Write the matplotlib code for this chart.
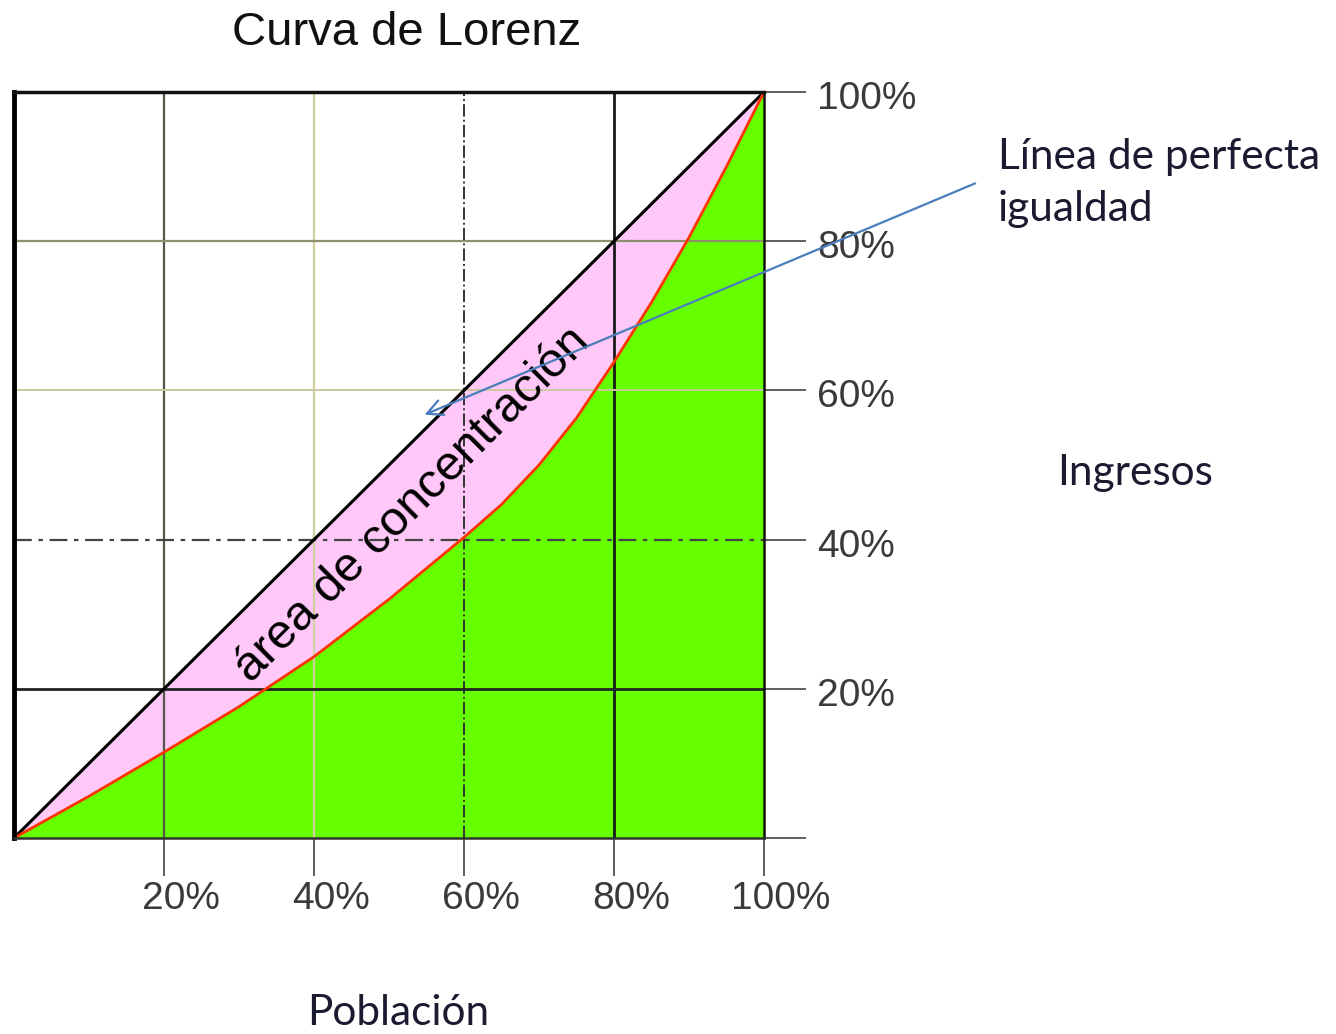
import matplotlib
matplotlib.use("Agg")
import matplotlib.pyplot as plt
from matplotlib.transforms import ScaledTranslation

# ---- data ----
poblacion = [0, 10, 20, 30, 40, 50, 60, 65, 70, 75, 80, 85, 90, 95, 100]
ingresos = [0, 5.6, 11.5, 17.6, 24.3, 32.0, 40.3, 44.7, 50.0, 56.3, 63.8, 71.8, 80.5, 90.0, 100]
igualdad_x = [0, 100]
igualdad_y = [0, 100]
x_ticks = [20, 40, 60, 80, 100]
x_labels = ["20%", "40%", "60%", "80%", "100%"]
y_ticks = [0, 20, 40, 60, 80, 100]
y_labels = ["", "20%", "40%", "60%", "80%", "100%"]
grid_v = [20, 40, 60, 80]
grid_h = [20, 40, 60, 80]

titulo = "Curva de Lorenz"
etiqueta_x = "Población"
etiqueta_y = "Ingresos"
texto_area = "área de concentración"
texto_linea = "Línea de perfecta\nigualdad"

fig = plt.figure(figsize=(13.36, 10.34), dpi=100)
ax = fig.add_axes([14/1336, 1-838/1034, 750/1336, 746/1034])
ax.set_xlim(0, 100)
ax.set_ylim(0, 100)

# fills
ax.fill_between(igualdad_x, igualdad_y, 0, color="#FFC8F8", zorder=1, lw=0)
ax.fill_between(poblacion, ingresos, 0, color="#66FF00", zorder=2, lw=0)

# grid lines with varied styles
v_styles = [("#555548", "-", 1.6), ("#CFCFA0", "-", 1.6), ("#333333", "-.", 1.4), ("#1a1a1a", "-", 2.0)]
h_styles = [("#222222", "-", 2.0), ("#444444", (0, (8, 3, 2, 3)), 1.6), ("#C8C8A0", "-", 1.4), ("#8F8F70", "-", 1.6)]
for v, (c, ls, lw) in zip(grid_v, v_styles):
    ax.axvline(v, color=c, ls=ls, lw=lw, zorder=3)
for h, (c, ls, lw) in zip(grid_h, h_styles):
    ax.axhline(h, color=c, ls=ls, lw=lw, zorder=3)

# lines
ax.plot(igualdad_x, igualdad_y, color="black", lw=2.2, zorder=5)
ax.plot(poblacion, ingresos, color="#FF3300", lw=2.0, zorder=5)

# spines
ax.spines["left"].set_linewidth(3.5)
ax.spines["left"].set_color("black")
ax.spines["top"].set_linewidth(2.5)
ax.spines["top"].set_color("#111111")
ax.spines["right"].set_linewidth(1.8)
ax.spines["right"].set_color("#111111")
ax.spines["bottom"].set_linewidth(1.8)
ax.spines["bottom"].set_color("#333333")
for s in ax.spines.values():
    s.set_zorder(6)

# ticks
ax.set_xticks(x_ticks)
ax.set_xticklabels(x_labels)
ax.yaxis.tick_right()
ax.set_yticks(y_ticks)
ax.set_yticklabels(y_labels)
ax.tick_params(axis="x", length=27, width=1.2, color="#444444", pad=4,
               labelsize=28, labelcolor="#3a3a3a")
ax.tick_params(axis="y", length=30, width=1.2, color="#444444", pad=8,
               labelsize=28, labelcolor="#3a3a3a")
for lab in ax.get_xticklabels():
    lab.set_fontfamily("Liberation Sans")
    lab.set_transform(lab.get_transform() + ScaledTranslation(0.17, 0, fig.dpi_scale_trans))
for lab in ax.get_yticklabels():
    lab.set_fontfamily("Liberation Sans")
    lab.set_transform(lab.get_transform() + ScaledTranslation(0, -0.03, fig.dpi_scale_trans))

# texts
fig.text(407/1336, 1-33/1034, titulo, ha="center", va="center",
         fontsize=34, family="Liberation Sans", color="#111111")
fig.text(398/1336, 1-1013/1034, etiqueta_x, ha="center", va="center",
         fontsize=30.5, family="Lato", color="#1a1a30")
fig.text(1135/1336, 1-473/1034, etiqueta_y, ha="center", va="center",
         fontsize=30.5, family="Lato", color="#1a1a30")
fig.text(998/1336, 1-183/1034, texto_linea, ha="left", va="center",
         fontsize=30.5, family="Lato", color="#1a1a30", linespacing=1.45)

ax.text(53.1, 44.6, texto_area, rotation=45, rotation_mode="anchor",
        ha="center", va="center", fontsize=35, family="Liberation Sans",
        color="black", zorder=7)

# arrow
ax.annotate("", xy=(54.4, 56.6), xytext=(128.5, 87.9),
            arrowprops=dict(arrowstyle="->", color="#4A7EBB", lw=1.6, mutation_scale=28),
            annotation_clip=False, zorder=8)

fig.savefig("out.png", dpi=100)
